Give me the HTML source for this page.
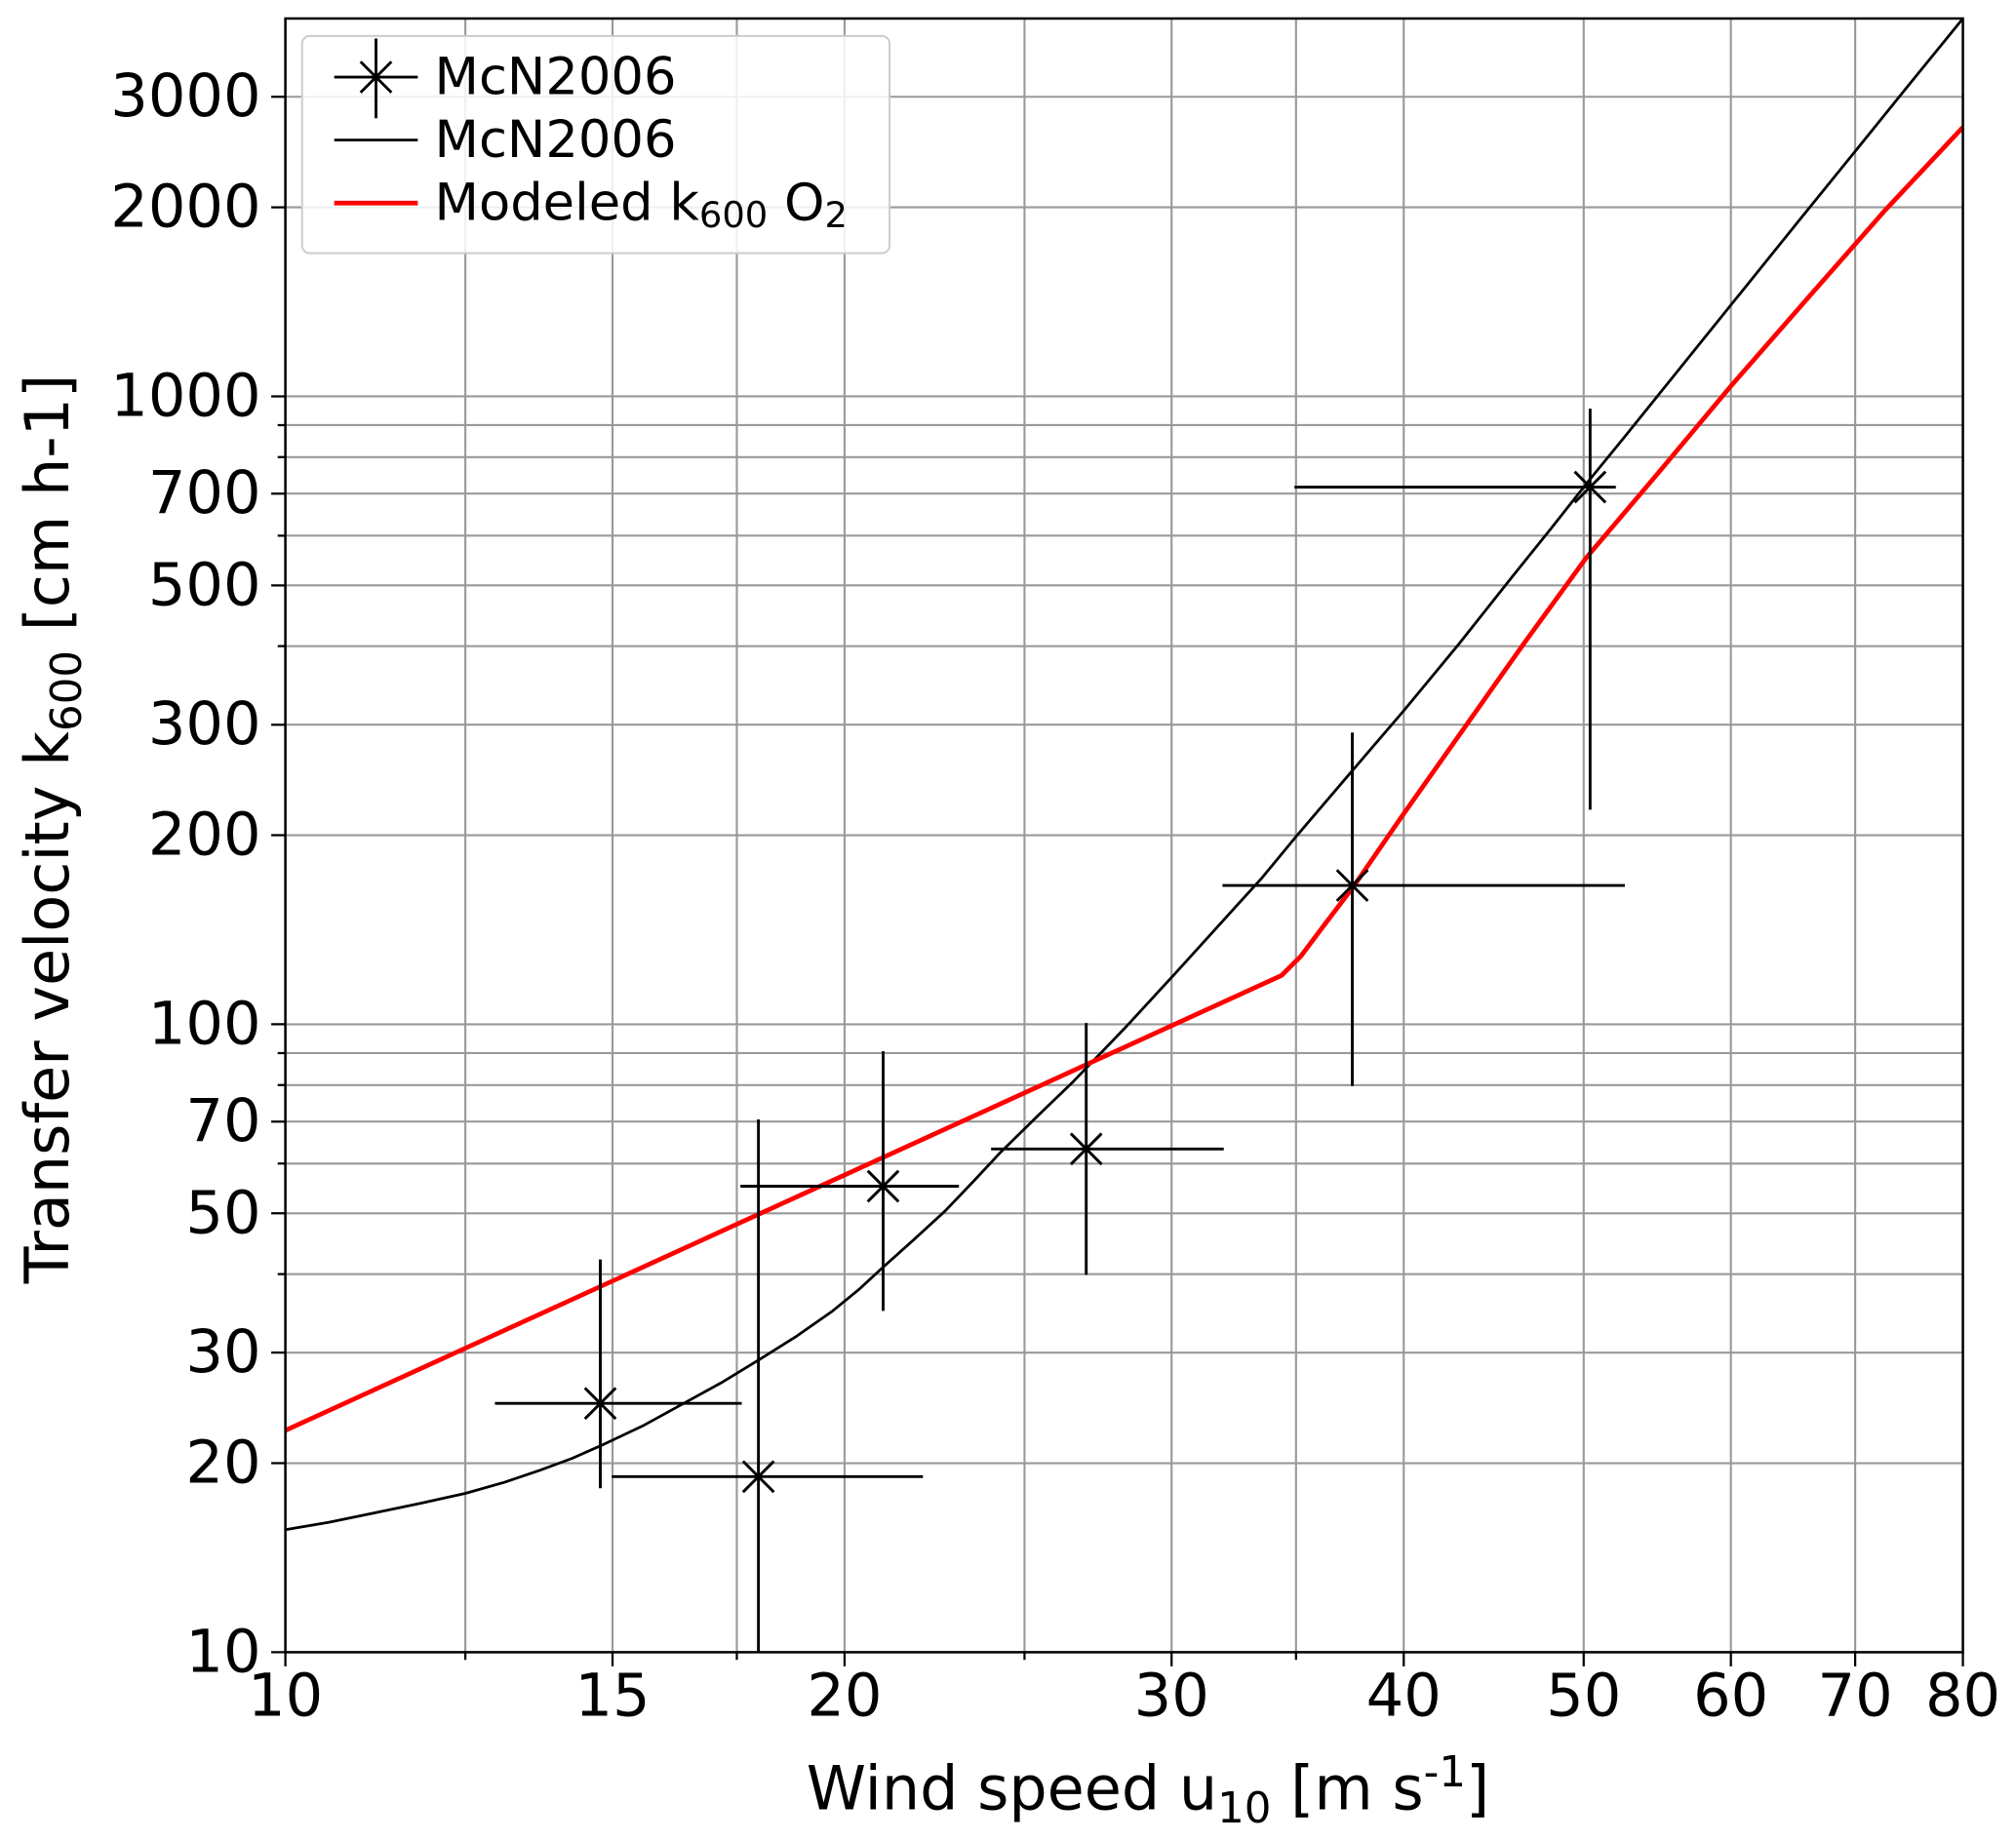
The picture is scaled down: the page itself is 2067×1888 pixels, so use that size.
<!DOCTYPE html>
<html><head><meta charset="utf-8"><style>html,body{margin:0;padding:0;background:#fff}svg{display:block}</style></head>
<body>
<svg width="2067" height="1888" viewBox="0 0 1568.3 1432.5" xmlns="http://www.w3.org/2000/svg" font-family="DejaVu Sans, Liberation Sans, sans-serif">
<rect width="1568.3" height="1432.5" fill="#fff"/>
<g stroke="#999" stroke-width="1.6">
<line x1="362" y1="14.4" x2="362" y2="1285.6"/><line x1="476.5" y1="14.4" x2="476.5" y2="1285.6"/><line x1="573.2" y1="14.4" x2="573.2" y2="1285.6"/><line x1="657" y1="14.4" x2="657" y2="1285.6"/><line x1="797" y1="14.4" x2="797" y2="1285.6"/><line x1="911.4" y1="14.4" x2="911.4" y2="1285.6"/><line x1="1008.2" y1="14.4" x2="1008.2" y2="1285.6"/><line x1="1092" y1="14.4" x2="1092" y2="1285.6"/><line x1="1232" y1="14.4" x2="1232" y2="1285.6"/><line x1="1346.5" y1="14.4" x2="1346.5" y2="1285.6"/><line x1="1443.2" y1="14.4" x2="1443.2" y2="1285.6"/>
<line x1="222" x2="1527" y1="1138.5" y2="1138.5"/><line x1="222" x2="1527" y1="1052.5" y2="1052.5"/><line x1="222" x2="1527" y1="991.4" y2="991.4"/><line x1="222" x2="1527" y1="944.1" y2="944.1"/><line x1="222" x2="1527" y1="905.4" y2="905.4"/><line x1="222" x2="1527" y1="872.7" y2="872.7"/><line x1="222" x2="1527" y1="844.3" y2="844.3"/><line x1="222" x2="1527" y1="819.4" y2="819.4"/><line x1="222" x2="1527" y1="797" y2="797"/>
<line x1="222" x2="1527" y1="649.9" y2="649.9"/><line x1="222" x2="1527" y1="563.9" y2="563.9"/><line x1="222" x2="1527" y1="502.8" y2="502.8"/><line x1="222" x2="1527" y1="455.5" y2="455.5"/><line x1="222" x2="1527" y1="416.8" y2="416.8"/><line x1="222" x2="1527" y1="384.1" y2="384.1"/><line x1="222" x2="1527" y1="355.7" y2="355.7"/><line x1="222" x2="1527" y1="330.8" y2="330.8"/><line x1="222" x2="1527" y1="308.4" y2="308.4"/>
<line x1="222" x2="1527" y1="161.3" y2="161.3"/><line x1="222" x2="1527" y1="75.3" y2="75.3"/>
</g>
<!-- black model curve -->
<polyline points="222,1190.3 256,1184.5 290,1177.5 326,1170 362,1162 392,1153.5 420,1144 445,1134.8 468,1124.6 500,1109.5 530,1093 561,1076 591,1057.7 620,1039.5 647.8,1020 668,1003.5 687,986 711,964.5 735,942.5 757,919.5 778,897 806,869.5 835,841.5 875,800 913.7,758 950,718 981.8,683 1008.2,651 1050,602 1092,553 1135,501 1177,448 1206,412 1236,374 1263,341 1290,307.5 1323,266.5 1356,225.6 1400,171 1443,118 1485,66 1527,14.4" fill="none" stroke="#000" stroke-width="2.1" stroke-linejoin="round"/>
<!-- red modeled curve -->
<polyline points="222,1113 997,759 1012,744 1030,720 1053,689.7 1090,636 1114,602 1138,568 1162,534 1186,500 1234,434 1290,368 1346,301 1408,230 1467,163 1527,99" fill="none" stroke="#f00" stroke-width="3.6" stroke-linejoin="round"/>
<!-- error bars -->
<g stroke="#000" stroke-width="2.2">
<line x1="385" y1="1092" x2="577" y2="1092"/><line x1="467" y1="980" x2="467" y2="1158"/>
<line x1="476" y1="1149" x2="718" y2="1149"/><line x1="590" y1="871" x2="590" y2="1285.6"/>
<line x1="576" y1="923" x2="746" y2="923"/><line x1="687" y1="818" x2="687" y2="1020"/>
<line x1="771" y1="894" x2="952" y2="894"/><line x1="845" y1="796" x2="845" y2="992"/>
<line x1="951" y1="689" x2="1264" y2="689"/><line x1="1052" y1="570" x2="1052" y2="845"/>
<line x1="1007" y1="379" x2="1257" y2="379"/><line x1="1237" y1="318" x2="1237" y2="630"/>
<path d="M455,1080 l24,24 m0,-24 l-24,24 M578,1137 l24,24 m0,-24 l-24,24 M675,911 l24,24 m0,-24 l-24,24 M833,882 l24,24 m0,-24 l-24,24 M1040,677 l24,24 m0,-24 l-24,24 M1225,367 l24,24 m0,-24 l-24,24"/>
</g>
<!-- axes frame -->
<rect x="222" y="14.4" width="1305" height="1271.2" fill="none" stroke="#000" stroke-width="1.9"/>
<!-- ticks -->
<g stroke="#000" stroke-width="1.7">
<path d="M222,1285.6 v11 M476.5,1285.6 v11 M657,1285.6 v11 M911.4,1285.6 v11 M1092,1285.6 v11 M1232,1285.6 v11 M1346.5,1285.6 v11 M1443.2,1285.6 v11 M1527,1285.6 v11 M362,1285.6 v6 M573.2,1285.6 v6 M797,1285.6 v6 M1008.2,1285.6 v6"/>
<path d="M222,1285.6 h-11 M222,1138.5 h-11 M222,1052.5 h-11 M222,944.1 h-11 M222,872.7 h-11 M222,797 h-11 M222,649.9 h-11 M222,563.9 h-11 M222,455.5 h-11 M222,384.1 h-11 M222,308.4 h-11 M222,161.3 h-11 M222,75.3 h-11 M222,991.4 h-6 M222,905.4 h-6 M222,844.3 h-6 M222,819.4 h-6 M222,502.8 h-6 M222,416.8 h-6 M222,355.7 h-6 M222,330.8 h-6"/>
</g>
<g font-size="46" fill="#000" text-anchor="end" dominant-baseline="central">
<text x="203" y="1285.6">10</text><text x="203" y="1138.5">20</text><text x="203" y="1052.5">30</text><text x="203" y="944.1">50</text><text x="203" y="872.7">70</text><text x="203" y="797">100</text><text x="203" y="649.9">200</text><text x="203" y="563.9">300</text><text x="203" y="455.5">500</text><text x="203" y="384.1">700</text><text x="203" y="308.4">1000</text><text x="203" y="161.3">2000</text><text x="203" y="75.3">3000</text>
</g>
<g font-size="46" fill="#000" text-anchor="middle">
<text x="222" y="1335">10</text><text x="476.5" y="1335">15</text><text x="657" y="1335">20</text><text x="911.4" y="1335">30</text><text x="1092" y="1335">40</text><text x="1232" y="1335">50</text><text x="1346.5" y="1335">60</text><text x="1443.2" y="1335">70</text><text x="1527" y="1335">80</text>
</g>
<text x="893" y="1408" font-size="47" text-anchor="middle">Wind speed u<tspan font-size="33" dy="10">10</tspan><tspan dy="-10"> [m s</tspan><tspan font-size="33" dy="-18">-1</tspan><tspan dy="18">]</tspan></text>
<text transform="translate(53,645) rotate(-90)" font-size="47" text-anchor="middle">Transfer velocity k<tspan font-size="33" dy="10">600</tspan><tspan dy="-10"> [cm h-1]</tspan></text>
<!-- legend -->
<rect x="235" y="28" width="457" height="169" rx="6" fill="#fff" fill-opacity="0.85" stroke="#ccc" stroke-width="1.5"/>
<g stroke="#000" stroke-width="2.2"><line x1="260" y1="60" x2="325" y2="60"/><line x1="292.5" y1="30" x2="292.5" y2="92"/><path d="M280.5,48 l24,24 m0,-24 l-24,24"/><line x1="260" y1="109" x2="325" y2="109" stroke-width="2.1"/></g>
<line x1="260" y1="158" x2="325" y2="158" stroke="#f00" stroke-width="3.6"/>
<g font-size="40" fill="#000" dominant-baseline="central">
<text x="338" y="60">McN2006</text><text x="338" y="109">McN2006</text>
<text x="338" y="158">Modeled k<tspan font-size="28" dy="9">600</tspan><tspan dy="-9"> O</tspan><tspan font-size="28" dy="9">2</tspan></text>
</g>
</svg>
</body></html>
